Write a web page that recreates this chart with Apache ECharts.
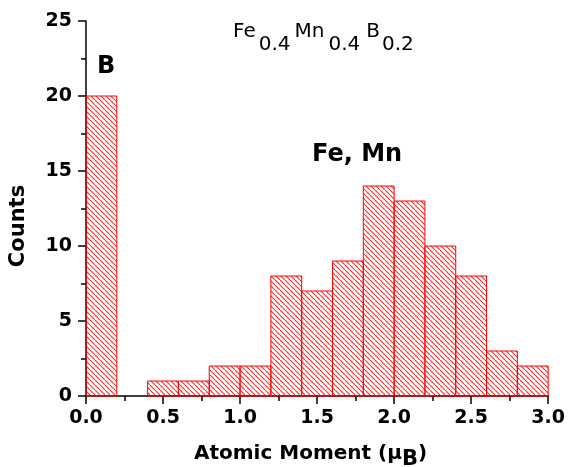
<!DOCTYPE html>
<html>
<head>
<meta charset="utf-8">
<script src="https://cdn.jsdelivr.net/npm/echarts@6/dist/echarts.min.js"></script>
<style>
html,body{margin:0;padding:0;background:#fff;}
#chart{width:568px;height:467px;}
</style>
</head>
<body>
<div id="chart"></div>
<script>
// Histogram bins (atomic moment, μB)
var binStart = [0.0, 0.2, 0.4, 0.6, 0.8, 1.0, 1.2, 1.4, 1.6, 1.8, 2.0, 2.2, 2.4, 2.6, 2.8];
var binEnd   = [0.2, 0.4, 0.6, 0.8, 1.0, 1.2, 1.4, 1.6, 1.8, 2.0, 2.2, 2.4, 2.6, 2.8, 3.0];
var counts   = [20, 0, 1, 1, 2, 2, 8, 7, 9, 14, 13, 10, 8, 3, 2];
var xTicks = [0.0, 0.5, 1.0, 1.5, 2.0, 2.5, 3.0];
var yTicks = [0, 5, 10, 15, 20, 25];

var FONT = 'DejaVu Sans';

// hatch pattern
var pc = document.createElement('canvas');
pc.width = 5; pc.height = 5;
var ctx = pc.getContext('2d');
ctx.strokeStyle = 'rgba(255,0,0,0.85)';
ctx.lineWidth = 1.1;
ctx.beginPath();
ctx.moveTo(-1, -1); ctx.lineTo(6, 6);
ctx.stroke();
var hatch = { image: pc, repeat: 'repeat' };

var data = [];
for (var i = 0; i < counts.length; i++) {
  if (counts[i] > 0) data.push([binStart[i], binEnd[i], counts[i]]);
}

function nStyle(padR) {
  return { fontFamily: FONT, fontSize: 20, lineHeight: 20, verticalAlign: 'top', padding: [0, padR, 0, 0], fill: '#000' };
}
function sStyle(padR) {
  return { fontFamily: FONT, fontSize: 20, lineHeight: 20, verticalAlign: 'top', padding: [13, padR, 0, 0], fill: '#000' };
}

var chart = echarts.init(document.getElementById('chart'), null, { renderer: 'canvas' });
chart.setOption({
  animation: false,
  backgroundColor: '#ffffff',
  grid: { left: 86, right: 19, top: 21, bottom: 71, containLabel: false },
  xAxis: {
    type: 'value', min: xTicks[0], max: xTicks[xTicks.length - 1], interval: 0.5,
    axisLine: { show: true, onZero: false, lineStyle: { color: '#000', width: 1.5 } },
    axisTick: { show: true, length: 8, lineStyle: { color: '#000', width: 1.5 } },
    minorTick: { show: true, splitNumber: 2, length: 5, lineStyle: { color: '#000', width: 1.5 } },
    splitLine: { show: false },
    axisLabel: {
      margin: 13, color: '#000', fontFamily: FONT, fontWeight: 'bold', fontSize: 19,
      formatter: function (v) { return v.toFixed(1); }
    }
  },
  yAxis: {
    type: 'value', min: yTicks[0], max: yTicks[yTicks.length - 1], interval: 5,
    axisLine: { show: true, lineStyle: { color: '#000', width: 1.5 } },
    axisTick: { show: true, length: 8, lineStyle: { color: '#000', width: 1.5 } },
    minorTick: { show: true, splitNumber: 2, length: 5, lineStyle: { color: '#000', width: 1.5 } },
    splitLine: { show: false },
    axisLabel: { margin: 14, color: '#000', fontFamily: FONT, fontWeight: 'bold', fontSize: 19 }
  },
  series: [{
    type: 'custom',
    data: data,
    encode: { x: [0, 1], y: 2 },
    renderItem: function (params, api) {
      var p0 = api.coord([api.value(0), api.value(2)]);
      var p1 = api.coord([api.value(1), 0]);
      return {
        type: 'rect',
        shape: { x: p0[0], y: p0[1], width: p1[0] - p0[0], height: p1[1] - p0[1] },
        style: { fill: hatch, stroke: '#ff0000', lineWidth: 1 }
      };
    }
  }],
  graphic: [
    { type: 'text', left: 97, top: 55, style: { text: 'B', fontFamily: FONT, fontWeight: 'bold', fontSize: 24, fill: '#000' } },
    { type: 'text', left: 312, top: 143, style: { text: 'Fe, Mn', fontFamily: FONT, fontWeight: 'bold', fontSize: 24, fill: '#000' } },
    {
      type: 'text', left: 233, top: 22,
      style: {
        text: '{a|Fe}{b|0.4}{c|Mn}{d|0.4}{e|B}{f|0.2}',
        fill: '#000',
        rich: { a: nStyle(3), b: sStyle(4), c: nStyle(4), d: sStyle(6), e: nStyle(2), f: sStyle(0) }
      }
    },
    {
      type: 'text', x: 19, y: 226, rotation: Math.PI / 2,
      style: { text: 'Counts', fontFamily: FONT, fontWeight: 'bold', fontSize: 21, fill: '#000', align: 'center', verticalAlign: 'middle' }
    },
    {
      type: 'text', left: 194, top: 444,
      style: {
        text: '{m|Atomic Moment (μ}{s|B}{m|)}',
        fill: '#000',
        rich: {
          m: { fontFamily: FONT, fontWeight: 'bold', fontSize: 20, lineHeight: 20, verticalAlign: 'top', fill: '#000' },
          s: { fontFamily: FONT, fontWeight: 'bold', fontSize: 21, lineHeight: 21, verticalAlign: 'top', padding: [5, 0, 0, 0], fill: '#000' }
        }
      }
    }
  ]
});
</script>
</body>
</html>
